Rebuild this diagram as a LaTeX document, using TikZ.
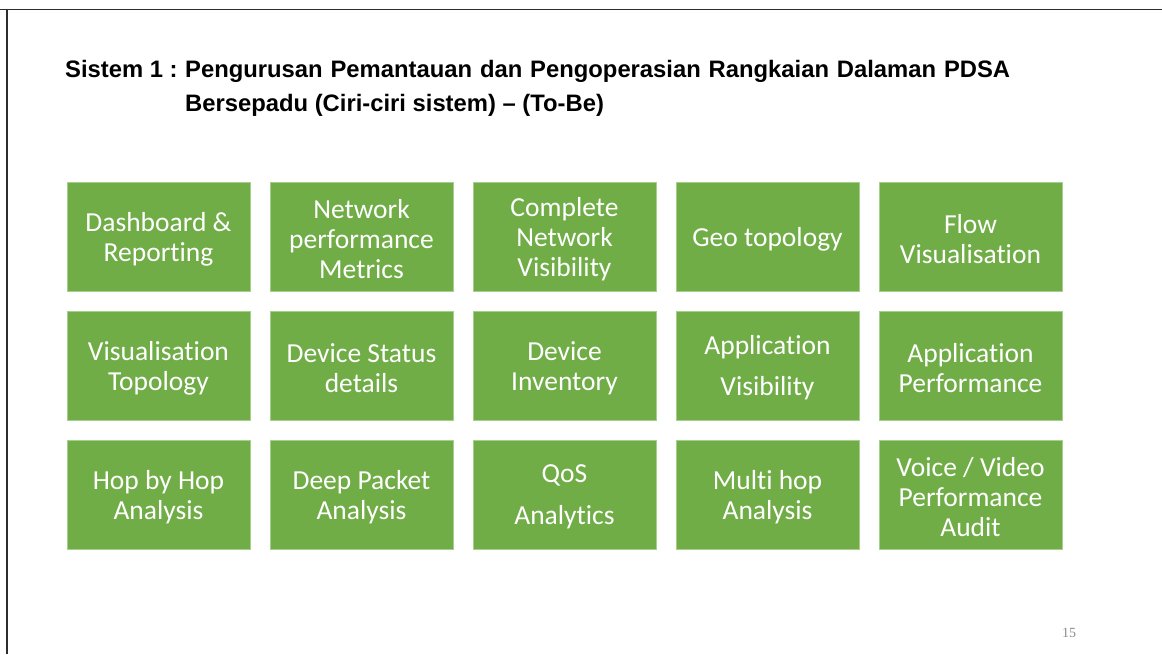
\documentclass[tikz,border=0pt]{standalone}
\usepackage{fontspec}
\usepackage{tikz}
\newfontfamily\carlito[Ligatures={NoCommon}]{Carlito}
\newfontfamily\arialbold{Liberation Sans}
\newfontfamily\pagefont{Liberation Serif}
\definecolor{boxgreen}{RGB}{112,173,71}
\definecolor{boxedge}{RGB}{165,208,140}
\definecolor{framegray}{RGB}{45,45,45}

\begin{document}
\begin{tikzpicture}[x=1pt,y=-1pt,
  feature/.style={fill=boxgreen,draw=boxedge,line width=0.8pt,minimum width=183pt,
    minimum height=109pt,inner sep=0pt},
  featurelabel/.style={yshift=-2.5pt,inner sep=0pt,align=center,text=white,
    font=\carlito\fontsize{27.5}{30}\selectfont},
  titletext/.style={anchor=base west,inner sep=0pt,
    font=\arialbold\bfseries\fontsize{23.8}{28}\selectfont}]
  \useasboundingbox (0,0) rectangle (1162,654);
  % slide frame
  \draw[framegray,line width=1.5pt] (0,9.5) -- (1162,9.5);
  \draw[framegray,line width=1.5pt] (7,9.5) -- (7,654);
  % heading
  \node[titletext] (syslabel) at (65,77) {Sistem 1 :};
  \node[titletext] (title1) at (185,77)
    {\makebox[825pt][s]{Pengurusan Pemantauan dan Pengoperasian Rangkaian Dalaman PDSA}};
  \node[titletext] (title2) at (185,111) {Bersepadu (Ciri-ciri sistem) – (To-Be)};
  % feature grid
  \foreach \r/\c/\lbl in {
      0/0/{Dashboard \&\\Reporting},
      0/1/{Network\\performance\\Metrics},
      0/2/{Complete\\Network\\Visibility},
      0/3/{Geo topology},
      0/4/{Flow\\Visualisation},
      1/0/{Visualisation\\Topology},
      1/1/{Device Status\\details},
      1/2/{Device\\Inventory},
      1/3/{Application\\[11pt]Visibility},
      1/4/{Application\\Performance},
      2/0/{Hop by Hop\\Analysis},
      2/1/{Deep Packet\\Analysis},
      2/2/{QoS\\[12pt]Analytics},
      2/3/{Multi hop\\Analysis},
      2/4/{Voice / Video\\Performance\\Audit}}
    \node[feature,label={[featurelabel]center:\lbl}] (f\r\c) at (158.5+203*\c,236.5+129*\r) {};
  \node[anchor=base,inner sep=0pt,text=black!45,
    font=\pagefont\fontsize{14}{14}\selectfont] (pagenum) at (1069,637) {15};
\end{tikzpicture}
\end{document}
